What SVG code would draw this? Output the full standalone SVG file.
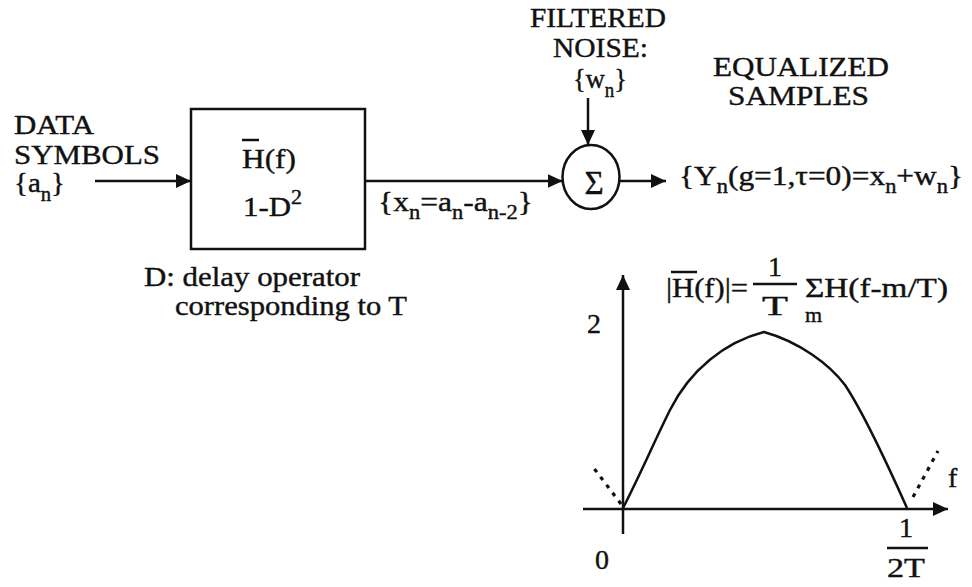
<svg xmlns="http://www.w3.org/2000/svg" width="972" height="587" viewBox="0 0 972 587">
<defs>
<style>
text{font-family:"Liberation Serif","Times New Roman","DejaVu Serif",serif;font-size:28px;fill:#111;stroke:#111;stroke-width:0.4}
.sub{font-size:20px}
.ln{stroke:#111;stroke-width:2.5;fill:none}
.bx{stroke:#111;stroke-width:2.5;fill:none}
.dot{stroke:#111;stroke-width:3.2;fill:none;stroke-dasharray:4 6}
</style>
<marker id="ah" markerUnits="userSpaceOnUse" markerWidth="15" markerHeight="14" refX="15" refY="7" orient="auto">
<path d="M0,0 L15,7 L0,14 z" fill="#111"/>
</marker>
</defs>
<rect width="972" height="587" fill="#fff"/>

<g id="input">
<text x="14" y="134" textLength="80" lengthAdjust="spacingAndGlyphs">DATA</text>
<text x="14" y="164" textLength="146" lengthAdjust="spacingAndGlyphs">SYMBOLS</text>
<text x="14" y="192" textLength="51" lengthAdjust="spacingAndGlyphs">{a<tspan class="sub" dy="9">n</tspan><tspan dy="-9">}</tspan></text>
</g>

<g id="filter">
<rect class="bx" x="191" y="109" width="174" height="140"/>
<line class="ln" x1="242" y1="140" x2="259" y2="140"/>
<text x="242" y="168" textLength="54" lengthAdjust="spacingAndGlyphs">H(f)</text>
<text x="243" y="216" textLength="59" lengthAdjust="spacingAndGlyphs">1-D<tspan class="sub" dy="-12">2</tspan></text>
</g>

<g id="delay-note">
<text x="144" y="286" textLength="216" lengthAdjust="spacingAndGlyphs">D: delay operator</text>
<text x="175" y="315" textLength="232" lengthAdjust="spacingAndGlyphs">corresponding to T</text>
</g>

<g id="xlabel">
<text x="378" y="211" textLength="155" lengthAdjust="spacingAndGlyphs">{x<tspan class="sub" dy="8">n</tspan><tspan dy="-8">=a</tspan><tspan class="sub" dy="8">n</tspan><tspan dy="-8">-a</tspan><tspan class="sub" dy="8">n-2</tspan><tspan dy="-8">}</tspan></text>
</g>

<g id="noise">
<text x="530" y="27" textLength="136" lengthAdjust="spacingAndGlyphs">FILTERED</text>
<text x="553" y="57" textLength="95" lengthAdjust="spacingAndGlyphs">NOISE:</text>
<text x="573" y="88" textLength="54" lengthAdjust="spacingAndGlyphs">{w<tspan class="sub" dy="9">n</tspan><tspan dy="-9">}</tspan></text>
</g>

<g id="sum">
<ellipse class="bx" cx="591" cy="177" rx="28.5" ry="32"/>
<text x="594" y="194" text-anchor="middle" style="font-size:33px">Σ</text>
</g>

<g id="output">
<text x="713" y="76" textLength="176" lengthAdjust="spacingAndGlyphs">EQUALIZED</text>
<text x="728" y="105" textLength="141" lengthAdjust="spacingAndGlyphs">SAMPLES</text>
<text x="679" y="185" textLength="284" lengthAdjust="spacingAndGlyphs">{Y<tspan class="sub" dy="8">n</tspan><tspan dy="-8">(g=1,τ=0)=x</tspan><tspan class="sub" dy="8">n</tspan><tspan dy="-8">+w</tspan><tspan class="sub" dy="8">n</tspan><tspan dy="-8">}</tspan></text>
</g>

<g id="connectors">
<line class="ln" x1="95" y1="181" x2="191" y2="181" marker-end="url(#ah)"/>
<line class="ln" x1="365" y1="181" x2="562.5" y2="181" marker-end="url(#ah)"/>
<line class="ln" x1="588" y1="98" x2="588" y2="145" marker-end="url(#ah)"/>
<line class="ln" x1="619.5" y1="181" x2="666" y2="181" marker-end="url(#ah)"/>
</g>

<g id="graph">
<line class="ln" x1="623" y1="534" x2="623" y2="275" marker-end="url(#ah)"/>
<line class="ln" x1="583" y1="509" x2="948" y2="509" marker-end="url(#ah)"/>
<path class="ln" d="M623,508 C640,475 655,440 670,410 C690,370 725,342 764,332 C800,342 830,365 845,385 C865,415 890,470 907,508"/>
<line class="dot" x1="621" y1="504" x2="593" y2="467"/>
<line class="dot" x1="913" y1="497" x2="938" y2="451"/>
<text x="587" y="333">2</text>
<text x="595" y="569">0</text>
<text x="948" y="487">f</text>
<text x="899" y="537">1</text>
<line class="ln" x1="887" y1="548" x2="928" y2="548"/>
<text x="887" y="577" textLength="38" lengthAdjust="spacingAndGlyphs">2T</text>
<line class="ln" x1="671" y1="272" x2="697" y2="272"/>
<text x="666" y="297" textLength="82" lengthAdjust="spacingAndGlyphs">|H(f)|=</text>
<text x="775" y="276" text-anchor="middle">1</text>
<line class="ln" x1="753" y1="284" x2="797" y2="284"/>
<text x="762" y="315" textLength="26" lengthAdjust="spacingAndGlyphs">T</text>
<text x="805" y="297" textLength="143" lengthAdjust="spacingAndGlyphs">ΣH(f-m/T)</text>
<text x="805" y="322" style="font-size:22px">m</text>
</g>
</svg>
